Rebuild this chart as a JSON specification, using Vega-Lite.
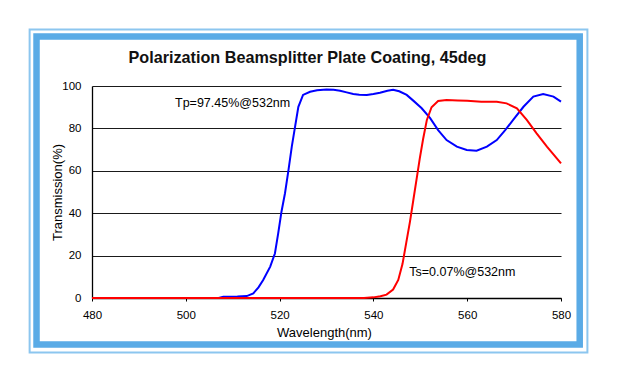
{
  "$schema": "https://vega.github.io/schema/vega-lite/v6.json",
  "autosize": {"type": "none"},
  "width": 469,
  "height": 212,
  "padding": {"left": 92, "top": 86, "right": 57, "bottom": 86},
  "background": "white",
  "title": {
    "text": "Polarization Beamsplitter Plate Coating, 45deg",
    "font": "Liberation Sans",
    "fontSize": 16.2,
    "fontWeight": "bold",
    "color": "#111111",
    "anchor": "middle",
    "frame": "group",
    "dx": -19,
    "baseline": "alphabetic",
    "offset": -51
  },
  "config": {
    "view": {"stroke": null},
    "font": "Liberation Sans"
  },
  "datasets": {
    "curves": [
      {"wavelength": 480, "T": 0, "pol": "Tp"},
      {"wavelength": 507, "T": 0, "pol": "Tp"},
      {"wavelength": 508, "T": 0.6, "pol": "Tp"},
      {"wavelength": 511, "T": 0.7, "pol": "Tp"},
      {"wavelength": 513, "T": 0.9, "pol": "Tp"},
      {"wavelength": 514.4, "T": 2.2, "pol": "Tp"},
      {"wavelength": 515.5, "T": 5, "pol": "Tp"},
      {"wavelength": 516.5, "T": 8.5, "pol": "Tp"},
      {"wavelength": 518, "T": 14.8, "pol": "Tp"},
      {"wavelength": 519, "T": 21, "pol": "Tp"},
      {"wavelength": 519.7, "T": 30.5, "pol": "Tp"},
      {"wavelength": 520.4, "T": 40.7, "pol": "Tp"},
      {"wavelength": 521.15, "T": 49.4, "pol": "Tp"},
      {"wavelength": 521.9, "T": 60.4, "pol": "Tp"},
      {"wavelength": 522.6, "T": 71.4, "pol": "Tp"},
      {"wavelength": 523.3, "T": 80.8, "pol": "Tp"},
      {"wavelength": 524, "T": 90.2, "pol": "Tp"},
      {"wavelength": 525, "T": 95.8, "pol": "Tp"},
      {"wavelength": 526.5, "T": 97.3, "pol": "Tp"},
      {"wavelength": 528, "T": 98, "pol": "Tp"},
      {"wavelength": 530, "T": 98.4, "pol": "Tp"},
      {"wavelength": 531.5, "T": 98.2, "pol": "Tp"},
      {"wavelength": 532.9, "T": 97.8, "pol": "Tp"},
      {"wavelength": 534.3, "T": 97, "pol": "Tp"},
      {"wavelength": 535.7, "T": 96.2, "pol": "Tp"},
      {"wavelength": 537, "T": 95.9, "pol": "Tp"},
      {"wavelength": 538.6, "T": 95.8, "pol": "Tp"},
      {"wavelength": 540, "T": 96.2, "pol": "Tp"},
      {"wavelength": 541.4, "T": 96.8, "pol": "Tp"},
      {"wavelength": 543, "T": 97.8, "pol": "Tp"},
      {"wavelength": 544.2, "T": 98.2, "pol": "Tp"},
      {"wavelength": 545.5, "T": 97.5, "pol": "Tp"},
      {"wavelength": 547.1, "T": 95.8, "pol": "Tp"},
      {"wavelength": 548.5, "T": 93.1, "pol": "Tp"},
      {"wavelength": 550.3, "T": 89.5, "pol": "Tp"},
      {"wavelength": 552.1, "T": 84.8, "pol": "Tp"},
      {"wavelength": 553.8, "T": 79.2, "pol": "Tp"},
      {"wavelength": 555.6, "T": 74.5, "pol": "Tp"},
      {"wavelength": 557.8, "T": 71.4, "pol": "Tp"},
      {"wavelength": 559.9, "T": 69.8, "pol": "Tp"},
      {"wavelength": 562, "T": 69.5, "pol": "Tp"},
      {"wavelength": 564.2, "T": 71.4, "pol": "Tp"},
      {"wavelength": 566.3, "T": 74.5, "pol": "Tp"},
      {"wavelength": 568.1, "T": 79.2, "pol": "Tp"},
      {"wavelength": 569.8, "T": 84, "pol": "Tp"},
      {"wavelength": 572, "T": 90.2, "pol": "Tp"},
      {"wavelength": 574.1, "T": 95, "pol": "Tp"},
      {"wavelength": 576.2, "T": 96.2, "pol": "Tp"},
      {"wavelength": 578.4, "T": 95, "pol": "Tp"},
      {"wavelength": 580, "T": 92.6, "pol": "Tp"},
      {"wavelength": 480, "T": 0, "pol": "Ts"},
      {"wavelength": 538, "T": 0, "pol": "Ts"},
      {"wavelength": 540, "T": 0.3, "pol": "Ts"},
      {"wavelength": 541.5, "T": 0.8, "pol": "Ts"},
      {"wavelength": 542.8, "T": 1.6, "pol": "Ts"},
      {"wavelength": 544.2, "T": 4, "pol": "Ts"},
      {"wavelength": 545.3, "T": 8.5, "pol": "Ts"},
      {"wavelength": 546.2, "T": 16, "pol": "Ts"},
      {"wavelength": 547, "T": 26, "pol": "Ts"},
      {"wavelength": 547.8, "T": 36, "pol": "Ts"},
      {"wavelength": 548.5, "T": 46, "pol": "Ts"},
      {"wavelength": 549.2, "T": 56, "pol": "Ts"},
      {"wavelength": 549.9, "T": 66, "pol": "Ts"},
      {"wavelength": 550.6, "T": 75, "pol": "Ts"},
      {"wavelength": 551.4, "T": 84, "pol": "Ts"},
      {"wavelength": 552.4, "T": 90, "pol": "Ts"},
      {"wavelength": 553.8, "T": 92.9, "pol": "Ts"},
      {"wavelength": 555.6, "T": 93.4, "pol": "Ts"},
      {"wavelength": 558, "T": 93.2, "pol": "Ts"},
      {"wavelength": 560, "T": 93.1, "pol": "Ts"},
      {"wavelength": 563, "T": 92.6, "pol": "Ts"},
      {"wavelength": 566.3, "T": 92.6, "pol": "Ts"},
      {"wavelength": 568.4, "T": 91.8, "pol": "Ts"},
      {"wavelength": 570.6, "T": 89.5, "pol": "Ts"},
      {"wavelength": 572.7, "T": 84, "pol": "Ts"},
      {"wavelength": 574.8, "T": 77.7, "pol": "Ts"},
      {"wavelength": 577, "T": 71.4, "pol": "Ts"},
      {"wavelength": 580, "T": 63.5, "pol": "Ts"}
    ],
    "annotations": [
      {"label": "Tp=97.45%@532nm", "wavelength": 497.7, "T": 91.8},
      {"label": "Ts=0.07%@532nm", "wavelength": 547.65, "T": 12.4}
    ]
  },
  "layer": [
    {
      "data": {"values": [{}]},
      "mark": {"type": "rect", "filled": false, "stroke": "#8cc6ef", "strokeWidth": 2, "clip": false},
      "encoding": {
        "x": {"datum": 466.7, "type": "quantitative"},
        "x2": {"datum": 585.63},
        "y": {"datum": 126.6, "type": "quantitative"},
        "y2": {"datum": -25.7}
      }
    },
    {
      "data": {"values": [{}]},
      "mark": {"type": "rect", "filled": false, "stroke": "#5aabe6", "strokeWidth": 6.5, "clip": false},
      "encoding": {
        "x": {"datum": 468.17, "type": "quantitative"},
        "x2": {"datum": 583.99},
        "y": {"datum": 123.35, "type": "quantitative"},
        "y2": {"datum": -21.93}
      }
    },
    {
      "data": {"name": "curves"},
      "mark": {"type": "line", "strokeWidth": 2, "clip": false},
      "encoding": {
        "x": {
          "field": "wavelength",
          "type": "quantitative",
          "scale": {"domain": [480, 580], "nice": false, "zero": false},
          "axis": {
            "title": "Wavelength(nm)",
            "values": [480, 500, 520, 540, 560, 580],
            "grid": false,
            "domainColor": "#000000",
            "domainWidth": 1.3,
            "ticks": true,
            "tickSize": 3,
            "tickColor": "#000000",
            "tickWidth": 1,
            "labelFont": "Liberation Sans",
            "labelFontSize": 11.5,
            "labelColor": "#000000",
            "labelPadding": 8.5,
            "labelFlush": false,
            "titleFont": "Liberation Sans",
            "titleFontSize": 13,
            "titleFontWeight": "normal",
            "titleColor": "#000000",
            "titleBaseline": "middle",
            "titleX": 232,
            "titleY": 34
          }
        },
        "y": {
          "field": "T",
          "type": "quantitative",
          "scale": {"domain": [0, 100], "nice": false},
          "axis": {
            "title": "Transmission(%)",
            "values": [0, 20, 40, 60, 80, 100],
            "grid": true,
            "gridColor": "#1a1a1a",
            "gridWidth": 1.2,
            "domainColor": "#000000",
            "domainWidth": 1.3,
            "ticks": false,
            "labelFont": "Liberation Sans",
            "labelFontSize": 11.5,
            "labelColor": "#000000",
            "labelPadding": 11,
            "labelFlush": false,
            "titleFont": "Liberation Sans",
            "titleFontSize": 13,
            "titleFontWeight": "normal",
            "titleColor": "#000000",
            "titleBaseline": "middle",
            "titleX": -34.5
          }
        },
        "color": {
          "field": "pol",
          "type": "nominal",
          "scale": {"domain": ["Tp", "Ts"], "range": ["#0000ff", "#ff0000"]},
          "legend": null
        }
      }
    },
    {
      "data": {"name": "annotations"},
      "mark": {"type": "text", "align": "left", "baseline": "middle", "font": "Liberation Sans", "fontSize": 12.5, "color": "#000000"},
      "encoding": {
        "x": {"field": "wavelength", "type": "quantitative"},
        "y": {"field": "T", "type": "quantitative"},
        "text": {"field": "label", "type": "nominal"}
      }
    }
  ]
}
